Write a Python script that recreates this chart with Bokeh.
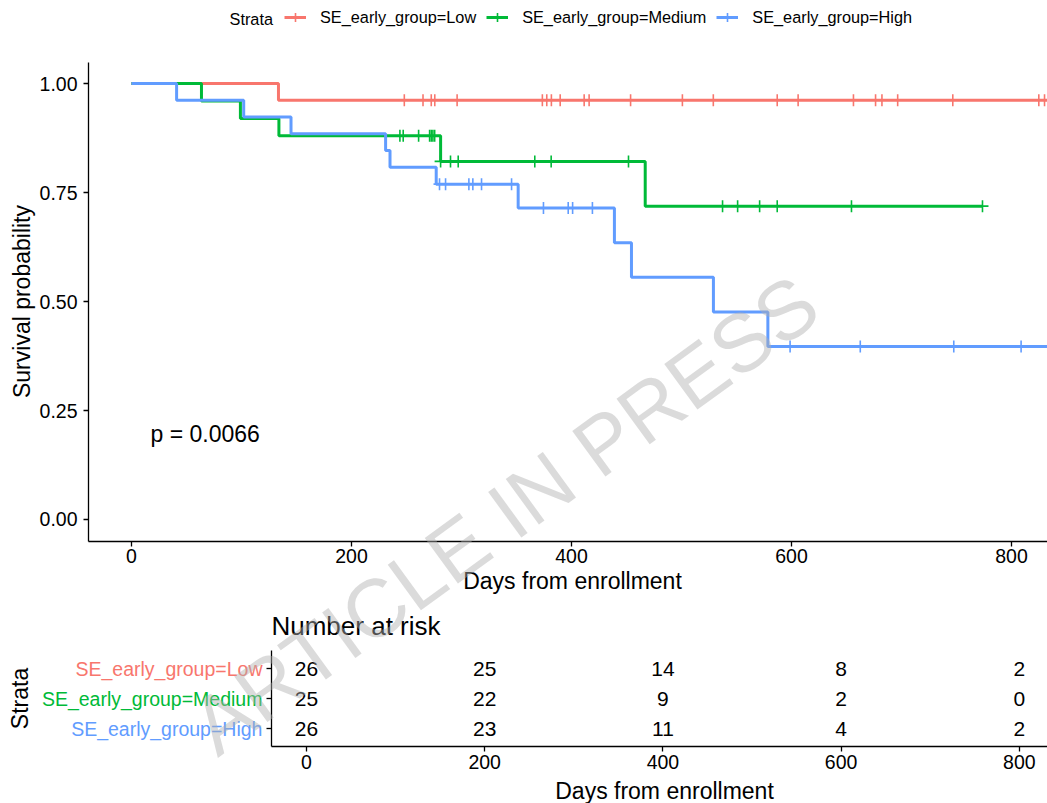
import math
import numpy as np
from bokeh.plotting import figure
from bokeh.models import (Range1d, LinearAxis, FixedTicker, Label, Legend, LegendItem,
                          PrintfTickFormatter)
from bokeh.core.properties import value
from bokeh.embed import file_html
from bokeh.resources import INLINE

FONT = "Liberation Sans"

# ---------------- data ----------------
groups = ["SE_early_group=Low", "SE_early_group=Medium", "SE_early_group=High"]
colors = ["#F8766D", "#00BA38", "#619CFF"]

low_times = [0, 133.6]
low_surv = [1.0, 0.9615]
low_end = 832.5
low_censor = [248, 265, 272.5, 275.7, 296, 373.5, 377.5, 381.7, 389.7, 411.5, 416,
              453.7, 500.8, 528.9, 587, 606, 656.3, 676.4, 682.2, 696.5, 746.6, 824.8, 830]

med_times = [0, 63.6, 99, 134, 281, 467]
med_surv = [1.0, 0.96, 0.92, 0.88, 0.8213, 0.7187]
med_end = 773.6
med_censor = [244, 247, 261, 271, 272.5, 274, 275.6, 281, 290, 297, 366.6, 381.5,
              451.8, 537.3, 551, 571, 587, 654.5, 773.6]

high_times = [0, 41, 102, 145, 231, 235, 277, 351.5, 439, 454.5, 529, 578.5]
high_surv = [1.0, 0.9615, 0.9231, 0.8846, 0.8462, 0.8077, 0.7692, 0.7143,
             0.6349, 0.5556, 0.4762, 0.3968]
high_end = 832.5
high_censor = [280, 285.5, 306.7, 310.3, 318.2, 345.5, 374.5, 397, 401, 419,
               598.7, 662.5, 747.5, 808.7]

time_ticks = [0, 200, 400, 600, 800]
surv_ticks = [0, 0.25, 0.5, 0.75, 1.0]

risk_times = [0, 200, 400, 600, 800]
risk_low = [26, 25, 14, 8, 2]
risk_med = [25, 22, 9, 2, 0]
risk_high = [26, 23, 11, 4, 2]
risk_rows = [3, 2, 1]  # Low, Medium, High row positions

p_value_text = "p = 0.0066"
watermark_text = "ARTICLE IN PRESS"

# ---------------- figure (frame covers the whole canvas) ----------------
W, H = 1047, 803
p = figure(width=W, height=H, output_backend="svg", toolbar_location=None,
           x_range=Range1d(-119.09, 832.7), y_range=Range1d(-0.6514, 1.1904),
           x_axis_type=None, y_axis_type=None,
           min_border_left=0, min_border_right=0, min_border_top=0, min_border_bottom=0)
p.outline_line_color = None
p.background_fill_color = "white"
p.border_fill_color = "white"
p.extra_x_ranges = {"risk": Range1d(-343.4, 831.6)}
p.extra_y_ranges = {"risky": Range1d(-1.5, 25.267)}


def style_axis(ax, size="19.5px"):
    ax.axis_line_color = "black"
    ax.axis_line_width = 1.3
    ax.major_tick_line_color = "black"
    ax.major_tick_line_width = 1.3
    ax.major_tick_out = 5
    ax.major_tick_in = 0
    ax.minor_tick_line_color = None
    ax.major_label_text_font = FONT
    ax.major_label_text_font_size = size
    ax.major_label_text_color = "black"


# KM y axis
yax = LinearAxis(ticker=FixedTicker(ticks=surv_ticks), formatter=PrintfTickFormatter(format="%.2f"),
                 bounds=(-0.05, 1.0482), fixed_location=-39.09)
style_axis(yax)
yax.major_label_standoff = 6
p.add_layout(yax, "left")

# KM x axis
xax = LinearAxis(ticker=FixedTicker(ticks=time_ticks), fixed_location=-0.05,
                 bounds=(-39.09, 832.7))
style_axis(xax)
xax.major_label_standoff = 3
p.add_layout(xax, "below")

# risk table x axis
rxax = LinearAxis(ticker=FixedTicker(ticks=time_ticks), x_range_name="risk",
                  y_range_name="risky", fixed_location=0.4, bounds=(-39.3, 831.6))
style_axis(rxax)
rxax.major_label_standoff = 3
p.add_layout(rxax, "below")

# risk table y axes (one per stratum so each label has its own colour)
for i, (g, c, r) in enumerate(zip(groups, colors, risk_rows)):
    ax = LinearAxis(ticker=FixedTicker(ticks=[r]), major_label_overrides={r: g},
                    x_range_name="risk", y_range_name="risky", fixed_location=-39.3,
                    bounds=(0.4, 3.6))
    style_axis(ax)
    ax.major_label_text_color = c
    ax.major_label_standoff = 4
    if i > 0:
        ax.axis_line_color = None
    p.add_layout(ax, "left")

# ---------------- curves ----------------
items = []
for g, c, times, surv, end, cens in [
        (groups[0], colors[0], low_times, low_surv, low_end, low_censor),
        (groups[1], colors[1], med_times, med_surv, med_end, med_censor),
        (groups[2], colors[2], high_times, high_surv, high_end, high_censor)]:
    xs = list(times) + [end]
    ys = list(surv) + [surv[-1]]
    lr = p.step(xs, ys, mode="after", line_color=c, line_width=3.0)
    idx = np.searchsorted(np.array(times), np.array(cens), side="right") - 1
    cy = [surv[k] for k in idx]
    sr = p.scatter(cens, cy, marker="cross", size=12, line_color=c, line_width=1.6)
    items.append(LegendItem(label=g, renderers=[lr, sr]))

legend = Legend(items=items, location=(284, 773), orientation="horizontal",
                glyph_width=22, glyph_height=26, label_standoff=14, spacing=10,
                padding=0, margin=0, border_line_color=None, background_fill_alpha=0,
                label_text_font=FONT, label_text_font_size="16.3px", label_text_color="black")
p.add_layout(legend)

p.add_layout(Label(x=89.1, y=1.149, text="Strata", text_font=FONT, text_font_size="16.3px",
                   text_align="left", text_baseline="middle", text_color="black"))

# p-value
p.text(x=[17.3], y=[0.195], text=[p_value_text], text_font=value(FONT), text_font_size="23px",
       text_align="left", text_baseline="middle", text_color="black")

# axis titles
p.add_layout(Label(x=-99.1, y=0.5, text="Survival probability", angle=math.pi / 2,
                   text_font=FONT, text_font_size="23px", text_align="center",
                   text_baseline="middle", text_color="black"))
p.add_layout(Label(x=400.9, y=-0.142, text="Days from enrollment", text_font=FONT,
                   text_font_size="23px", text_align="center", text_baseline="middle",
                   text_color="black"))

# risk table
for vals, r in zip([risk_low, risk_med, risk_high], risk_rows):
    p.text(x=risk_times, y=[r] * len(risk_times), text=[str(v) for v in vals],
           x_range_name="risk", y_range_name="risky", text_font=value(FONT),
           text_font_size="21px", text_align="center", text_baseline="middle",
           text_color="black")

p.add_layout(Label(x=-39.3, y=4.433, x_range_name="risk", y_range_name="risky",
                   text="Number at risk", text_font=FONT, text_font_size="26px",
                   text_align="left", text_baseline="middle", text_color="black"))
p.add_layout(Label(x=401.8, y=-1.067, x_range_name="risk", y_range_name="risky",
                   text="Days from enrollment", text_font=FONT, text_font_size="23px",
                   text_align="center", text_baseline="middle", text_color="black"))
p.add_layout(Label(x=-321, y=2, x_range_name="risk", y_range_name="risky",
                   text="Strata", angle=math.pi / 2, text_font=FONT, text_font_size="23px",
                   text_align="center", text_baseline="middle", text_color="black"))

# watermark
p.add_layout(Label(x=339.1, y=0.0115, text=watermark_text, angle=36 * math.pi / 180,
                   text_font=FONT, text_font_size="82px", text_align="center",
                   text_baseline="middle", text_color="#b0b0b0", text_alpha=0.45))

open("out.html", "w").write(file_html(p, INLINE))
